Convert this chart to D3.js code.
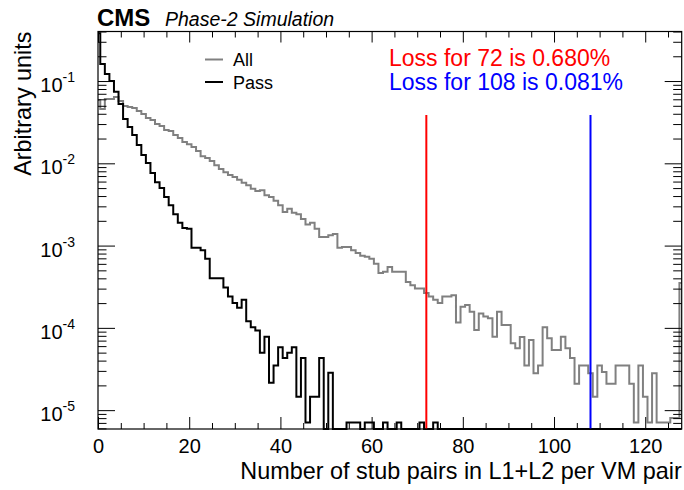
<!DOCTYPE html>
<html>
<head>
<meta charset="utf-8">
<script src="https://cdn.jsdelivr.net/npm/d3@7"></script>
<style>
    body { margin: 0; background: #fff; }
    text { font-family: "Liberation Sans", Arial, Helvetica, sans-serif; }
</style>
</head>
<body>
<svg id="chart" width="684" height="490"></svg>
<script>
// bins are one unit wide and centred on the integers 0..128
const binCenters = d3.range(0, 129);

// "All" distribution (grey), normalised
const allValues = [
    0.0587, 0.0457, 0.0604, 0.0604, 0.0639, 0.0571, 0.0497, 0.0483, 0.047, 0.0432,
    0.0397, 0.0355, 0.0336, 0.030, 0.0284, 0.0254, 0.0247, 0.0221, 0.0203, 0.0181,
    0.0171, 0.0158, 0.0141, 0.0122, 0.0116, 0.0107, 0.0095, 0.0085, 0.0078, 0.0072,
    0.0068, 0.0063, 0.0058, 0.0054, 0.0049, 0.0046, 0.0047, 0.0041, 0.0039, 0.0035,
    0.0031, 0.00256, 0.0028, 0.0025, 0.0024, 0.0021, 0.0018, 0.0019, 0.0016, 0.00127,
    0.00127, 0.00134, 0.00138, 9.4e-4, 9.6e-4, 9.6e-4, 8.8e-4, 8.1e-4, 7.5e-4, 7.3e-4,
    6.9e-4, 6.0e-4, 4.65e-4, 4.8e-4, 5.5e-4, 4.8e-4, 4.8e-4, 4.8e-4, 3.6e-4, 3.3e-4,
    3.0e-4, 3.0e-4, 2.65e-4, 2.4e-4, 2.2e-4, 2.0e-4, 2.4e-4, 2.4e-4, 2.5e-4, 1.16e-4,
    1.8e-4, 1.9e-4, 1.57e-4, 9.4e-5, 1.5e-4, 1.37e-4, 1.31e-4, 7.8e-5, 1.57e-4, 1.08e-4,
    1.08e-4, 6.5e-5, 5.65e-5, 7.75e-5, 3.5e-5, 7.1e-5, 2.8e-5, 3.5e-5, 1.02e-4, 7.5e-5,
    5.4e-5, 5.4e-5, 7.8e-5, 5.65e-5, 4.3e-5, 2.1e-5, 3.5e-5, 3.5e-5, 2.8e-5, 1.45e-5,
    3.5e-5, 2.9e-5, 2.1e-5, 2.1e-5, 3.5e-5, 3.5e-5, 3.5e-5, 2.1e-5, 7.1e-6, 3.5e-5,
    1.45e-5, 7.1e-6, 2.8e-5, 7.1e-6, 7.1e-6, 7.1e-6, 8e-6, 8e-6, 3.5e-4
];

// "Pass" distribution (black)
const passValues = [
    0.38, 0.161, 0.122, 0.1, 0.074, 0.0525, 0.0345, 0.0276, 0.0221, 0.0167,
    0.0126, 0.0101, 0.0076, 0.0059, 0.005, 0.0039, 0.0031, 0.0024, 0.0019, 0.00164,
    0.0016, 9.4e-4, 9.4e-4, 8.8e-4, 6.9e-4, 4.0e-4, 4.0e-4, 4.0e-4, 3.1e-4, 2.4e-4,
    2.0e-4, 1.75e-4, 2.2e-4, 1.2e-4, 1.02e-4, 9.3e-5, 5.0e-5, 7.8e-5, 2.15e-5, 3.5e-5,
    5.8e-5, 4.3e-5, 5.0e-5, 5.8e-5, 1.45e-5, 4.3e-5, 7.1e-6, 1.45e-5, 1.45e-5, 4.3e-5,
    0, 2.85e-5, 0, 0, 0, 7.1e-6, 7.1e-6, 7.1e-6, 0, 7.1e-6,
    7.1e-6, 0, 0, 7.1e-6, 0, 0, 7.1e-6, 0, 0, 0,
    0, 7.1e-6, 0, 0, 7.1e-6, 0, 0, 0, 0, 0,
    0, 0, 0, 0, 0, 0, 0, 0, 0, 0,
    0, 0, 0, 0, 0, 0, 0, 0, 0, 0,
    0, 0, 0, 0, 0, 0, 0, 0, 0, 0,
    0, 0, 0, 0, 0, 0, 0, 0, 0, 0,
    0, 0, 0, 0, 0, 0, 0, 0, 0
];

const cutValues = [72, 108];
const cutColors = ["#ff0000", "#0000ff"];
const cutTop = 0.0386;
const lossLabels = ["Loss for 72 is 0.680%", "Loss for 108 is 0.081%"];

const legendLabels = ["All", "Pass"];
const seriesColors = ["#808080", "#000000"];

const xDomain = [0, 128];
const yDomain = [5.9e-6, 0.4];
const xMajor = [0, 20, 40, 60, 80, 100, 120];
const xMinor = d3.range(5, 128, 5).filter(v => v % 20 !== 0);
const yMajor = [1e-5, 1e-4, 1e-3, 1e-2, 1e-1];

const xTitle = "Number of stub pairs in L1+L2 per VM pair";
const yTitle = "Arbitrary units";

// ---- layout
const svg = d3.select("#chart");
const frame = { left: 98, right: 681.7, top: 31.5, bottom: 429 };

const x = d3.scaleLinear().domain(xDomain).range([frame.left, frame.right]);
const y = d3.scaleLog().domain(yDomain).range([frame.bottom, frame.top]);

// minor log ticks 2..9 x 10^k inside the range
const yMinor = [];
for (let e = -6; e <= -1; e++) {
    for (let m = 2; m <= 9; m++) {
        const v = m * Math.pow(10, e);
        if (v >= yDomain[0] && v <= yDomain[1]) yMinor.push(v);
    }
}

svg.append("rect").attr("width", 684).attr("height", 490).attr("fill", "#fff");

svg.append("clipPath").attr("id", "plotClip")
    .append("rect")
    .attr("x", frame.left).attr("y", frame.top)
    .attr("width", frame.right - frame.left)
    .attr("height", frame.bottom - frame.top + 1.5);

// ---- histograms (zero bins sit on the bottom of the frame, like ROOT)
const clampY = v => y(Math.max(v, yDomain[0]));
const histLine = d3.line()
    .x(d => x(d.bin))
    .y(d => clampY(d.value))
    .curve(d3.curveStep);

const series = [allValues, passValues].map(vals =>
    binCenters.map((b, i) => ({ bin: b, value: vals[i] })));

const plot = svg.append("g").attr("clip-path", "url(#plotClip)");
plot.selectAll("path.hist")
    .data(series)
    .join("path")
    .attr("class", "hist")
    .attr("d", histLine)
    .attr("fill", "none")
    .attr("stroke", (d, i) => seriesColors[i])
    .attr("stroke-width", 2);

// cut lines
plot.selectAll("line.cut")
    .data(cutValues)
    .join("line")
    .attr("class", "cut")
    .attr("x1", d => x(d)).attr("x2", d => x(d))
    .attr("y1", y(cutTop)).attr("y2", frame.bottom)
    .attr("stroke", (d, i) => cutColors[i])
    .attr("stroke-width", 2);

// ---- axes, ticks pointing inside on all four sides
function styleAxis(g) {
    g.select(".domain").remove();
    g.selectAll(".tick line").attr("stroke", "#000").attr("stroke-width", 1);
}

svg.append("g").attr("transform", `translate(0,${frame.bottom})`)
    .call(d3.axisBottom(x).tickValues(xMajor).tickSize(-12).tickPadding(10).tickFormat(d3.format("d")))
    .call(styleAxis)
    .call(g => g.selectAll("text").attr("font-size", 20).attr("font-family", "Liberation Sans, Arial, sans-serif").attr("fill", "#000"));
svg.append("g").attr("transform", `translate(0,${frame.bottom})`)
    .call(d3.axisBottom(x).tickValues(xMinor).tickSize(-6).tickFormat(""))
    .call(styleAxis);
svg.append("g").attr("transform", `translate(0,${frame.top})`)
    .call(d3.axisTop(x).tickValues(xMajor).tickSize(-11).tickFormat(""))
    .call(styleAxis);
svg.append("g").attr("transform", `translate(0,${frame.top})`)
    .call(d3.axisTop(x).tickValues(xMinor).tickSize(-6).tickFormat(""))
    .call(styleAxis);

svg.append("g").attr("transform", `translate(${frame.left},0)`)
    .call(d3.axisLeft(y).tickValues(yMajor).tickSize(-17).tickFormat(""))
    .call(styleAxis);
svg.append("g").attr("transform", `translate(${frame.left},0)`)
    .call(d3.axisLeft(y).tickValues(yMinor).tickSize(-8.5).tickFormat(""))
    .call(styleAxis);
svg.append("g").attr("transform", `translate(${frame.right},0)`)
    .call(d3.axisRight(y).tickValues(yMajor).tickSize(-17).tickFormat(""))
    .call(styleAxis);
svg.append("g").attr("transform", `translate(${frame.right},0)`)
    .call(d3.axisRight(y).tickValues(yMinor).tickSize(-8.5).tickFormat(""))
    .call(styleAxis);

// y labels as 10^n
const yLab = svg.append("g").selectAll("text")
    .data(yMajor)
    .join("text")
    .attr("x", 75)
    .attr("y", d => y(d) + 11)
    .attr("text-anchor", "end")
    .attr("font-size", 20);
yLab.append("tspan").text("10");
yLab.append("tspan")
    .attr("font-size", 14)
    .attr("dy", -10)
    .text(d => String(Math.round(Math.log10(d))));

// frame
svg.append("rect")
    .attr("x", frame.left).attr("y", frame.top)
    .attr("width", frame.right - frame.left)
    .attr("height", frame.bottom - frame.top)
    .attr("fill", "none").attr("stroke", "#000").attr("stroke-width", 1.2);

// ---- titles
svg.append("text")
    .attr("x", frame.right).attr("y", 479)
    .attr("text-anchor", "end")
    .attr("font-size", 23.4)
    .text(xTitle);

svg.append("text")
    .attr("transform", `translate(31,${frame.top}) rotate(-90)`)
    .attr("text-anchor", "end")
    .attr("font-size", 23.4)
    .text(yTitle);

svg.append("text")
    .attr("x", 97).attr("y", 26)
    .attr("font-size", 24).attr("font-weight", "bold")
    .text("CMS");
svg.append("text")
    .attr("x", 165).attr("y", 26)
    .attr("font-size", 19.5).attr("font-style", "italic")
    .text("Phase-2 Simulation");

// ---- legend
const legend = svg.append("g").selectAll("g")
    .data(legendLabels)
    .join("g")
    .attr("transform", (d, i) => `translate(205,${59.5 + i * 22.5})`);
legend.append("line")
    .attr("x1", 0).attr("x2", 18)
    .attr("stroke", (d, i) => seriesColors[i])
    .attr("stroke-width", 2);
legend.append("text")
    .attr("x", 28).attr("y", 6.5)
    .attr("font-size", 18)
    .text(d => d);

// loss annotations
svg.append("g").selectAll("text")
    .data(lossLabels)
    .join("text")
    .attr("x", 389)
    .attr("y", (d, i) => 66 + i * 23.5)
    .attr("font-size", 23)
    .attr("fill", (d, i) => cutColors[i])
    .text(d => d);
</script>
</body>
</html>
